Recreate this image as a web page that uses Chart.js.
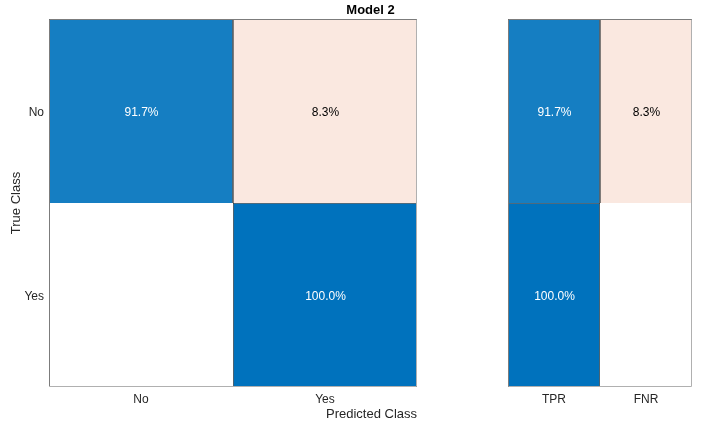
<!DOCTYPE html>
<html><head><meta charset="utf-8">
<script src="https://cdn.jsdelivr.net/npm/chart.js@4/dist/chart.umd.min.js"></script>
<style>html,body{margin:0;padding:0;background:#fff}#wrap{position:relative;width:706px;height:430px}canvas{position:absolute;left:0;top:0}</style>
</head><body><div id="wrap"><canvas id="c1" width="706" height="430"></canvas><canvas id="c2" width="706" height="430"></canvas></div>
<script>
// ---- data ----
const classes = ['No', 'Yes'];            // true / predicted classes
const rowNo = [91.7, 8.3];                // true No  -> predicted No, Yes (%)
const rowYes = [0, 100];                  // true Yes -> predicted No, Yes (%)
const summaryLabels = ['TPR', 'FNR'];
const tpr = [91.7, 100];                  // per true class
const fnr = [8.3, 0];
const chartTitle = 'Model 2';
const xTitle = 'Predicted Class';
const yTitle = 'True Class';

// ---- styles ----
const FONT = "'Liberation Sans', Arial, Helvetica, sans-serif";
const TXT = '#262626';
const BLUE = [0, 114, 189];
const RED = [217, 83, 25];
const OFF_GAIN = 1.6;
function mix(c, t) { t = Math.max(0, Math.min(1, t)); return 'rgb(' + c.map(v => Math.round(255 - t * (255 - v))).join(',') + ')'; }
function cellColor(v, diag) { if (!v) return 'rgba(0,0,0,0)'; return diag ? mix(BLUE, v / 100) : mix(RED, OFF_GAIN * v / 100); }
function cellBorder(v) { return v ? '#383838' : 'rgba(0,0,0,0)'; }
function textColor(v, diag) { return (diag && v / 100 > 0.5) ? '#ffffff' : '#000000'; }

function makeDataset(pct, diag) {
  return {
    data: pct.map(() => 1), pct: pct, diag: diag,
    backgroundColor: pct.map((v, i) => cellColor(v, diag[i])),
    borderColor: pct.map(v => cellBorder(v)),
    borderWidth: pct.map(v => v ? 0.8 : 0),
    inflateAmount: 0,
    barPercentage: 1, categoryPercentage: 1
  };
}

const cellText = {
  id: 'cellText',
  afterDatasetsDraw(chart) {
    const ctx = chart.ctx;
    ctx.save();
    ctx.font = '12px ' + FONT; ctx.textAlign = 'center'; ctx.textBaseline = 'middle';
    chart.data.datasets.forEach((ds, i) => {
      chart.getDatasetMeta(i).data.forEach((el, j) => {
        const v = ds.pct[j];
        if (!v) return;
        const p = el.getProps(['x', 'y', 'base'], true);
        ctx.fillStyle = textColor(v, ds.diag[j]);
        ctx.fillText(v.toFixed(1) + '%', p.x + 0.5, (p.y + p.base) / 2 + 1.5);
      });
    });
    ctx.restore();
  }
};
const frame = {
  id: 'frame',
  afterDatasetsDraw(chart) {
    const a = chart.chartArea, ctx = chart.ctx;
    const l = Math.round(a.left) + 0.5, t = Math.round(a.top) + 0.5, r = Math.round(a.right) - 0.5, b = Math.round(a.bottom) - 0.5;
    ctx.save(); ctx.lineWidth = 1;
    ctx.strokeStyle = '#7c7c7c';
    ctx.beginPath(); ctx.moveTo(l, b); ctx.lineTo(l, t); ctx.lineTo(r, t); ctx.stroke();
    ctx.strokeStyle = '#b0b0b0';
    ctx.beginPath(); ctx.moveTo(r, t); ctx.lineTo(r, b); ctx.lineTo(l, b); ctx.stroke();
    ctx.restore();
  }
};
const figTitle = {
  id: 'figTitle',
  afterDraw(chart) {
    const ctx = chart.ctx;
    ctx.save(); ctx.font = 'bold 13px ' + FONT; ctx.fillStyle = '#000'; ctx.textAlign = 'center'; ctx.textBaseline = 'middle';
    ctx.fillText(chartTitle, (chart.chartArea.left + 692) / 2, 10);
    ctx.restore();
  }
};

function yTick(v) { return classes[Math.round(1.5 - v)]; }

function baseScales(xLabels, withY) {
  return {
    x: {
      stacked: true, labels: xLabels,
      grid: { display: false, drawTicks: false }, border: { display: false },
      ticks: { padding: 5, color: TXT, font: { family: FONT, size: 12 }, maxRotation: 0 },
      title: { display: withY, text: xTitle, align: 'end', color: TXT, font: { family: FONT, size: 13 }, padding: { top: 0, bottom: 8 } },
      afterFit(s) { s.height = 43; }
    },
    y: {
      stacked: true, min: 0, max: 2, display: withY,
      grid: { display: false, drawTicks: false }, border: { display: false },
      afterBuildTicks(s) { s.ticks = [{ value: 0.5 }, { value: 1.5 }]; },
      ticks: { callback: v => yTick(v), padding: 5, labelOffset: 2, color: TXT, font: { family: FONT, size: 12 } },
      title: { display: true, text: yTitle, color: TXT, font: { family: FONT, size: 13 }, padding: { top: 9, bottom: 0 } },
      afterFit(s) { s.width = withY ? 49 : 0; }
    }
  };
}

new Chart(document.getElementById('c1'), {
  type: 'bar',
  data: {
    labels: classes,
    datasets: [makeDataset(rowYes, [false, true]), makeDataset(rowNo, [true, false])]
  },
  options: {
    responsive: false, animation: false,
    layout: { padding: { left: 0, top: 19, right: 289, bottom: 0 } },
    plugins: { legend: { display: false }, tooltip: { enabled: false }, title: { display: false } },
    scales: baseScales(classes, true)
  },
  plugins: [frame, cellText, figTitle]
});

new Chart(document.getElementById('c2'), {
  type: 'bar',
  data: {
    labels: summaryLabels,
    datasets: [makeDataset([tpr[1], fnr[1]], [true, false]), makeDataset([tpr[0], fnr[0]], [true, false])]
  },
  options: {
    responsive: false, animation: false,
    layout: { padding: { left: 508, top: 19, right: 14, bottom: 0 } },
    plugins: { legend: { display: false }, tooltip: { enabled: false } },
    scales: baseScales(summaryLabels, false)
  },
  plugins: [frame, cellText]
});
</script>
</body></html>
